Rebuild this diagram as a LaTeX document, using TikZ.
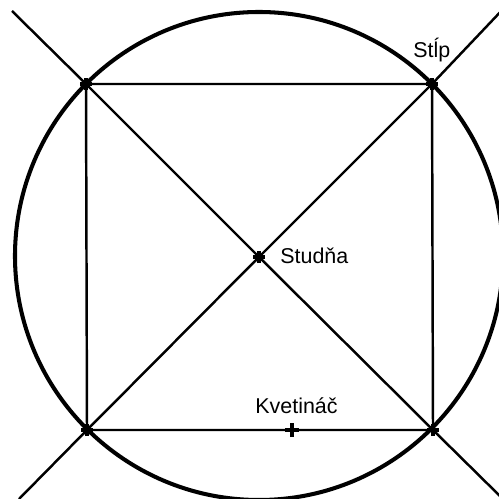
\documentclass[tikz,border=0pt]{standalone}
\usepackage{fontspec}
\setmainfont{Liberation Sans}
\begin{document}
\begin{tikzpicture}[x=0.02cm,y=-0.02cm,
  thinline/.style={line width=1.4pt, black},
  ring/.style={line width=2.3pt, black},
  crossmark/.style={line width=2.6pt, black},
  lbl/.style={anchor=base west, inner sep=0pt, font=\fontsize{12.2}{14}\selectfont}]
\useasboundingbox (0,0) rectangle (499,499);
\clip (0,0) rectangle (499,499);
\coordinate (TL) at (86,84);
\coordinate (TR) at (432,84);
\coordinate (BL) at (87,430);
\coordinate (BR) at (433,430);
\coordinate (C) at (259,257);
\coordinate (K) at (292,430);
\coordinate (eTL) at (12,11);
\coordinate (eBR) at (506,502);
\coordinate (eTR) at (506,6);
\coordinate (eBL) at (19,499);
\draw[ring] (259,256) circle (244);
\draw[thinline] (TL) -- (TR) -- (BR) -- (BL) -- cycle;
\draw[thinline] (eTL) -- (TL) -- (C) -- (BR) -- (eBR);
\draw[thinline] (eTR) -- (TR) -- (C) -- (BL) -- (eBL);
\foreach \p in {TL,TR,BL,BR,C}{
  \draw[crossmark] ([xshift=-6*0.02cm]\p) -- ([xshift=6*0.02cm]\p);
  \draw[crossmark] ([yshift=-6*0.02cm]\p) -- ([yshift=6*0.02cm]\p);
}
\draw[crossmark] ([xshift=-7*0.02cm]K) -- ([xshift=7*0.02cm]K);
\draw[crossmark] ([yshift=-7*0.02cm]K) -- ([yshift=7*0.02cm]K);
\node[lbl] (stlp) at (413,58) {Stĺp};
\node[lbl] (studna) at (280,263) {Studňa};
\node[lbl] (kvet) at (255,413) {Kvetináč};
\end{tikzpicture}
\end{document}
